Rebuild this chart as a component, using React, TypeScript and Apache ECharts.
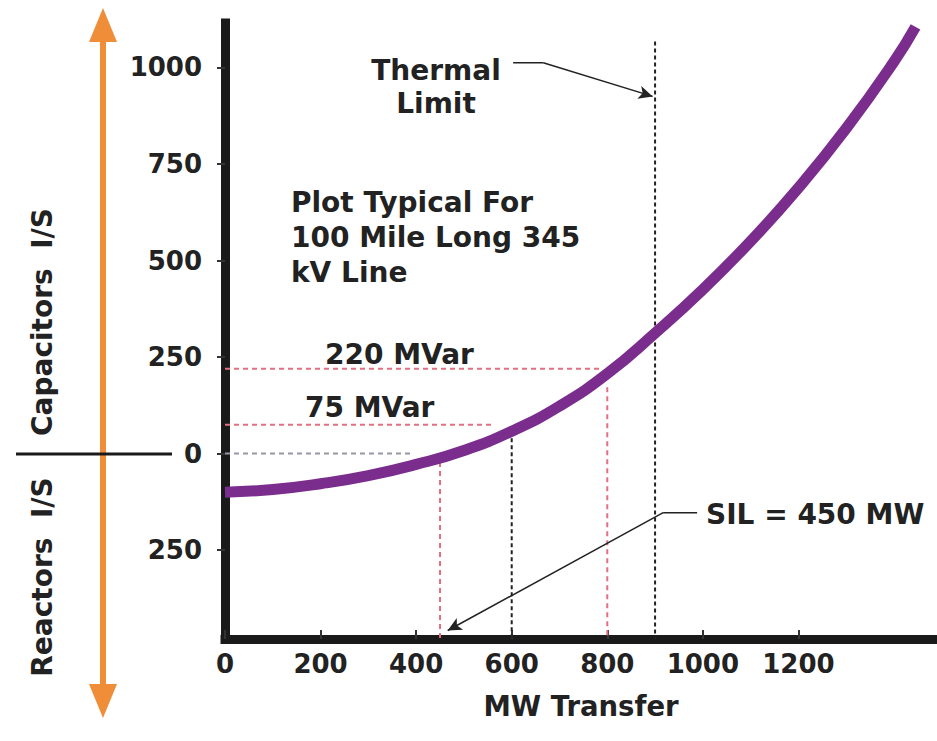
import React, { useEffect, useRef } from "react";
import * as echarts from "echarts";

// ---- data ----
const mwTransfer = [0, 100, 200, 300, 400, 500, 600, 700, 800, 900, 1000, 1100, 1200, 1300, 1400, 1445];
const mvarRequired = [-100, -93, -78, -57, -28, 8, 58, 123, 207, 312, 425, 550, 688, 842, 1015, 1105];

const yTickValues = [-250, 0, 250, 500, 750, 1000];
const xTickValues = [0, 200, 400, 600, 800, 1000, 1200];

const thermalLimitMW = 900;
const silMW = 450;
// dashed guide lines [x1, y1, x2, y2]
const redGuides = [
  [0, 220, 785, 220],
  [0, 75, 560, 75],
  [silMW, -22, silMW, -480],
  [800, 172, 800, -480],
];
const greyGuides = [[0, 0, 395, 0]];
const blackGuides = [
  [600, 40, 600, -480],
  [thermalLimitMW, 1067, thermalLimitMW, -480],
];
// annotation arrows: polyline points (last segment gets arrow head)
const thermalArrow = [[603, 1012], [666, 1012], [895, 925]];
const silArrow = [[988, -153], [917, -153], [466, -458]];

const FONT = "'DejaVu Sans', 'Liberation Sans', Arial, sans-serif";
const TXT = "#222";

export default function App() {
  const ref = useRef<HTMLDivElement>(null);
  useEffect(() => {
    if (!ref.current) return;
    const chart = echarts.init(ref.current, null, { renderer: "svg" });

    const guideSeries = (segs: number[][], color: string, dash: number[]) =>
      segs.map((s) => ({
        type: "line",
        data: [[s[0], s[1]], [s[2], s[3]]],
        symbol: "none",
        silent: true,
        z: 1,
        lineStyle: { color, width: 2, type: dash },
      }));

    const arrowSeries = (pts: number[][]) => {
      const n = pts.length;
      return {
        type: "line",
        data: pts.slice(0, n - 1),
        symbol: "none",
        silent: true,
        z: 4,
        lineStyle: { color: "#222", width: 1.5 },
        markLine: {
          silent: true,
          symbol: ["none", "arrow"],
          symbolSize: [10, 14],
          label: { show: false },
          lineStyle: { color: "#222", width: 1.5, type: "solid" },
          data: [[{ coord: pts[n - 2] }, { coord: pts[n - 1] }]],
        },
      };
    };

    const textStyle = (text: string, size: number, align: string, vAlign: string, lineHeight?: number) => ({
      text,
      fontFamily: FONT,
      fontWeight: "bold",
      fontSize: size,
      lineHeight,
      fill: TXT,
      align,
      verticalAlign: vAlign,
    });

    const option: any = {
      animation: false,
      backgroundColor: "#ffffff",
      grid: { left: 225, right: 0, top: 23, bottom: 102, containLabel: false },
      xAxis: {
        type: "value",
        min: 0,
        max: 1490,
        interval: 200,
        name: "MW Transfer",
        nameLocation: "middle",
        nameGap: 53,
        nameTextStyle: { fontFamily: FONT, fontWeight: "bold", fontSize: 27.5, color: TXT },
        axisLine: { onZero: false, lineStyle: { color: "#1a1a1a", width: 9, cap: "square" } },
        axisTick: { show: true, inside: true, length: 9, lineStyle: { color: "#333", width: 2 }, customValues: xTickValues },
        axisLabel: {
          margin: 12,
          fontFamily: FONT,
          fontWeight: "bold",
          fontSize: 26,
          color: TXT,
          customValues: xTickValues,
          formatter: (v: number) => String(v),
        },
        splitLine: { show: false },
      },
      yAxis: {
        type: "value",
        min: -480,
        max: 1115,
        axisLine: { onZero: false, lineStyle: { color: "#1a1a1a", width: 9, cap: "square" } },
        axisTick: { show: true, length: 8, lineStyle: { color: "#333", width: 2 }, customValues: yTickValues },
        axisLabel: {
          margin: 23,
          fontFamily: FONT,
          fontWeight: "bold",
          fontSize: 26,
          color: TXT,
          customValues: yTickValues,
          formatter: (v: number) => String(Math.abs(v)),
        },
        splitLine: { show: false },
      },
      series: [
        ...guideSeries(redGuides, "#e46f80", [5, 4]),
        ...guideSeries(greyGuides, "#9a95a5", [5, 4]),
        ...guideSeries(blackGuides, "#222", [4, 3]),
        {
          type: "line",
          data: mwTransfer.map((x, i) => [x, mvarRequired[i]]),
          smooth: 0.5,
          symbol: "none",
          z: 3,
          lineStyle: { color: "#7B2D8E", width: 11, cap: "butt" },
        },
        arrowSeries(thermalArrow),
        arrowSeries(silArrow),
      ],
      graphic: [
        // orange double arrow
        { type: "line", shape: { x1: 103, y1: 34, x2: 103, y2: 692 }, style: { stroke: "#EF8D38", lineWidth: 6 } },
        { type: "polygon", shape: { points: [[103, 8], [89, 42], [117, 42]] }, style: { fill: "#EF8D38" } },
        { type: "polygon", shape: { points: [[103, 718], [89, 684], [117, 684]] }, style: { fill: "#EF8D38" } },
        // zero divider
        { type: "line", shape: { x1: 16, y1: 454, x2: 172, y2: 454 }, style: { stroke: "#1a1a1a", lineWidth: 3 } },
        { type: "text", x: 42, y: 322, rotation: Math.PI / 2, style: textStyle("Capacitors  I/S", 28, "center", "middle") },
        { type: "text", x: 42, y: 577, rotation: Math.PI / 2, style: textStyle("Reactors  I/S", 28, "center", "middle") },
        { type: "text", x: 436, y: 54, style: textStyle("Thermal\nLimit", 28, "center", "top", 33) },
        { type: "text", x: 291, y: 185, style: textStyle("Plot Typical For\n100 Mile Long 345\nkV Line", 28, "left", "top", 35) },
        { type: "text", x: 325, y: 354, style: textStyle("220 MVar", 28, "left", "middle") },
        { type: "text", x: 305, y: 407, style: textStyle("75 MVar", 28, "left", "middle") },
        { type: "text", x: 706, y: 514, style: textStyle("SIL = 450 MW", 28, "left", "middle") },
      ],
    };
    chart.setOption(option);
    return () => chart.dispose();
  }, []);
  return <div ref={ref} style={{ position: "fixed", left: 0, top: 0, width: 937, height: 741, background: "#fff" }} />;
}
